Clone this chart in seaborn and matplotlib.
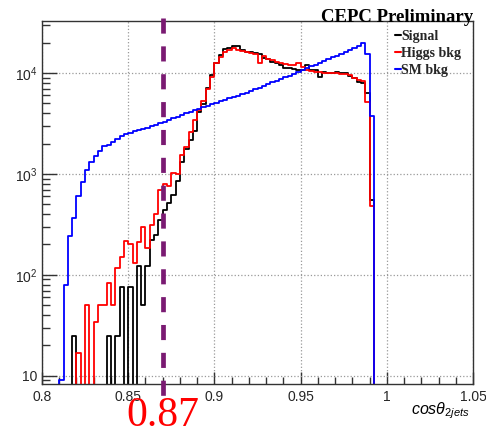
import numpy as np
import matplotlib
matplotlib.use("Agg")
import matplotlib.pyplot as plt
import matplotlib.ticker as mticker
import matplotlib.transforms as mtrans
from matplotlib.lines import Line2D
import pandas as pd
import seaborn as sns

# ---------------- data (bin width 0.0025 starting at 0.80) ----------------
bin_start = 0.80
bin_width = 0.0025
n_bins = 100

signal = [0, 0, 0, 0, 0, 0, 0, 25, 0, 0,
          0, 0, 0, 0, 0, 25, 0, 25, 75, 0,
          75, 0, 123, 50, 123, 222, 249, 351, 440, 512,
          620, 850, 1300, 1750, 2150, 2650, 4100, 4900, 7100, 9600,
          12500, 15100, 17200, 17800, 18600, 18500, 16900, 16250, 16000, 15650,
          15300, 14150, 13770, 12950, 12650, 12000, 11270, 11270, 10880, 10720,
          10700, 11900, 10720, 10720, 9180, 10300, 10100, 9970, 10300, 9900,
          10000, 9400, 8850, 8200, 7900, 6300, 553] + [0] * 23

higgs = [0, 0, 0, 0, 0, 0, 0, 0, 17, 0,
         50, 0, 34, 50, 50, 83, 50, 116, 150, 217,
         201, 131, 214, 300, 184, 312, 400, 700, 800, 760,
         1030, 1000, 1550, 1850, 2620, 3400, 4300, 5300, 7000, 9180,
         12600, 14500, 16000, 16900, 17600, 17000, 16600, 16250, 15800, 15300,
         12500, 14700, 13600, 13300, 12950, 12650, 12300, 12000, 11900, 12500,
         11500, 10700, 10500, 10300, 10300, 10100, 10000, 9900, 9900, 9710,
         9800, 9500, 8850, 8600, 8300, 5100, 482] + [0] * 23

sm_bkg = [0, 0, 0, 0, 9, 80, 243, 364, 610, 840,
          1100, 1306, 1506, 1700, 1890, 1950, 2075, 2220, 2380, 2470,
          2566, 2640, 2720, 2800, 2880, 2980, 3060, 3180, 3300, 3420,
          3560, 3700, 3830, 3980, 4120, 4280, 4440, 4600, 4750, 4920,
          5080, 5250, 5420, 5600, 5780, 5950, 6150, 6400, 6650, 6900,
          7150, 7450, 7750, 8050, 8350, 8700, 9050, 9400, 9800, 10200,
          10670, 11120, 11590, 12080, 12590, 13120, 13680, 14260, 14860, 15490,
          16140, 16830, 17540, 18280, 19600, 15400, 3750] + [0] * 23

series_names = ["Signal", "Higgs bkg", "SM bkg"]
series_colors = ["#000000", "#ff0000", "#0000ff"]
x_ticks = [0.8, 0.85, 0.9, 0.95, 1.0, 1.05]
x_tick_labels = ["0.8", "0.85", "0.9", "0.95", "1", "1.05"]
y_ticks = [10, 100, 1000, 10000]
y_tick_labels = ["10", r"$\mathdefault{10^{2}}$", r"$\mathdefault{10^{3}}$", r"$\mathdefault{10^{4}}$"]
cut_value = 0.87

edges = bin_start + bin_width * np.arange(n_bins + 1)
centers = 0.5 * (edges[:-1] + edges[1:])

# ---------------- style ----------------
sns.set_style("ticks")
plt.rcParams["font.family"] = ["Liberation Sans", "DejaVu Sans"]
plt.rcParams["mathtext.fontset"] = "custom"
plt.rcParams["mathtext.rm"] = "Liberation Sans"
plt.rcParams["mathtext.it"] = "Liberation Sans:italic"

W, H = 486, 428
fig = plt.figure(figsize=(W / 100, H / 100), dpi=100)
fig.patch.set_facecolor("white")
ax = fig.add_axes([42 / W, 44 / H, 431 / W, 363 / H])
ax.set_facecolor("white")

for vals, name, col in zip([signal, higgs, sm_bkg], series_names, series_colors):
    df = pd.DataFrame({"x": centers, "w": np.asarray(vals, dtype=float)})
    sns.histplot(data=df, x="x", weights="w", bins=edges.tolist(), element="step",
                 fill=False, common_bins=False, color=col, linewidth=1.3, ax=ax)

ax.set_yscale("log")
ax.set_xlim(0.8, 1.05)
ax.set_ylim(8.3, 32700)
ax.set_ylabel("")
ax.set_xlabel("")

ax.xaxis.set_major_locator(mticker.FixedLocator(x_ticks))
ax.xaxis.set_major_formatter(mticker.FixedFormatter(x_tick_labels))
ax.xaxis.set_minor_locator(mticker.MultipleLocator(0.01))
ax.yaxis.set_major_locator(mticker.FixedLocator(y_ticks))
ax.yaxis.set_major_formatter(mticker.FixedFormatter(y_tick_labels))
ax.yaxis.set_minor_locator(mticker.LogLocator(base=10, subs=np.arange(2, 10), numticks=20))
ax.yaxis.set_minor_formatter(mticker.NullFormatter())

ax.tick_params(axis="both", which="both", direction="in", top=False, right=False,
               color="#333333", width=1.0)
ax.tick_params(axis="x", which="major", length=9, labelsize=10, pad=4)
ax.tick_params(axis="x", which="minor", length=5)
ax.tick_params(axis="y", which="major", length=11, labelsize=10, pad=3)
ax.tick_params(axis="y", which="minor", length=6)

ax.grid(True, which="major", linestyle=":", color="#999999", linewidth=0.9)
for sp in ax.spines.values():
    sp.set_visible(True)
    sp.set_color("#333333")
    sp.set_linewidth(1.0)

# cut line
blend = mtrans.blended_transform_factory(ax.transData, ax.transAxes)
ax.plot([cut_value, cut_value], [1.008, -0.036], transform=blend, clip_on=False,
        color="#7a1a72", linewidth=3.4, dashes=(3.2, 2.7), zorder=5)

blend_fig = mtrans.blended_transform_factory(ax.transData, fig.transFigure)
ax.text(cut_value, 2.5 / H, "0.87", transform=blend_fig, ha="center", va="baseline",
        fontsize=30, color="#ff0000", family="Liberation Serif", clip_on=False)

# axis title
fig.text(470 / W, 1 - 414 / H, r"$cos\theta_{2jets}$", ha="right", va="baseline",
         fontsize=11.5, color="#000000")

# header
fig.text(473 / W, 1 - 17 / H, "CEPC Preliminary", ha="right", va="center",
         family="Liberation Serif", weight="bold", fontsize=13.5, color="#000000")

# legend
handles = [Line2D([], [], color=c, linewidth=1.5) for c in series_colors]
fig.legend(handles, series_names, loc="upper left",
           bbox_to_anchor=(395 / W, 1 - 30 / H), frameon=False,
           handlelength=0.4, handletextpad=0.05, labelspacing=0.3,
           borderpad=0, borderaxespad=0,
           prop={"family": "Liberation Serif", "weight": "bold", "size": 10})

fig.savefig("out.png", dpi=100, facecolor="white")
